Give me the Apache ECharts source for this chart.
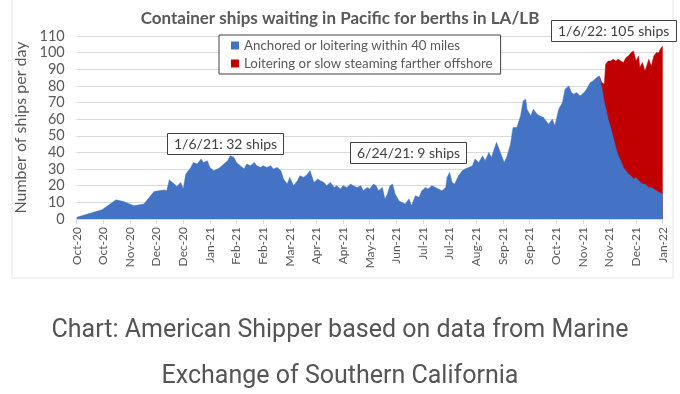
<!DOCTYPE html>
<html>
<head>
<meta charset="utf-8">
<script src="https://cdn.jsdelivr.net/npm/echarts@6/dist/echarts.min.js"></script>
<style>html,body{margin:0;padding:0;background:#fff;}#c{width:680px;height:394px;}</style>
</head>
<body>
<div id="c"></div>
<script>
// x tick labels (every 21 days starting Oct 1, 2020)
const tickLabels = ['Oct-20','Oct-20','Nov-20','Dec-20','Dec-20','Jan-21','Feb-21','Feb-21','Mar-21','Apr-21','Apr-21','May-21','Jun-21','Jul-21','Jul-21','Aug-21','Sep-21','Sep-21','Oct-21','Nov-21','Nov-21','Dec-21','Jan-22'];
const yTicks = [0,10,20,30,40,50,60,70,80,90,100,110];

// days since Oct 1, 2020
const days = [0,20,31,37,45,53,61,69,71,73,
77,79,82,84,86,88,90,92,95,98,
100,103,105,108,111,113,116,119,121,124,
126,129,132,134,137,140,142,145,147,150,
153,155,158,161,163,166,168,171,174,176,
179,182,184,187,190,192,195,197,200,203,
205,208,210,213,216,218,221,224,226,229,
231,234,236,238,241,243,245,247,249,251,
254,256,259,262,264,267,270,272,275,277,
280,283,285,288,291,292,294,296,298,301,
304,306,309,312,314,317,320,322,325,327,
330,331,334,337,339,342,344,347,350,352,
354,355,358,360,363,365,368,369,372,375,
377,380,383,385,388,390,392,394,397,400,
402,405,407,410,412,414,416,417,419,421,
423,425,427,429,431,433,435,437,438,439,
441,443,444,446,448,449,451,453,455,457,
459,460,462];

// Anchored or loitering within 40 miles
const anchored = [1,5.5,11.5,10.5,8,9,16.5,17.5,17,23.5,
21,19.5,22,18,27,29,31,34,33,36,
34,35,31,29,30,31,33,35,38,37,
34,32,30,33,32,34,32,31,32,31,
32,30,31,29,24,21,25,20,23,26,
25,27,29,22,24,23,22,20,22,19,
20,18,20,19,21,20,19,20,17,19,
18,21,20,17,19,12,15,20,21,15,
11,10,9,12,8,14,13,17,19,18,
20,19,18,17,19,25,28,22,21,26,
29,30,31,32,36,34,38,35,40,37,
44,46,40,34,37,45,55,55,62,71,
72,66,62,66,63,62,61,62,57,60,
56,66,70,78,80,76,75,76,74,76,
78,82,83,85,86,79,70,67,60,55,
49,43,38,35,31,29,27,26,25,24,
25,23,22,21,21,20,19,19,18,17,
16,15,15];

// Loitering or slow steaming farther offshore (starts mid-Nov 2021)
const offshoreDays = [412,414,416,417,419,421,423,425,427,429,431,433,435,437,438,439,441,443,444,446,448,449,451,453,455,457,459,460,462];
const offshore = [0,3,11,26,35,40,47,52,58,60,63,68,71,74,76,77,70,75,69,73,68,71,77,73,80,83,84,87,89];

// Red drawn as the stacked top (anchored + offshore) behind the blue area
const blueData = days.map((d,i)=>[d, anchored[i]]);
const redData = offshoreDays.map((d,i)=>[d, anchored[days.indexOf(d)] + offshore[i]]);

const chart = echarts.init(document.getElementById('c'), null, {renderer:'canvas'});
const gray = '#595959';
const annoStyle = {fontFamily:'Lato', fontSize:14, color:'#404040', fontWeight:'normal'};
const capStyle = {fontFamily:'Roboto', fontSize:25, fontWeight:'normal', color:'#555'};
chart.setOption({
  animation:false,
  backgroundColor:'#fff',
  title:[
    {text:'Container ships waiting in Pacific for berths in LA/LB', left:'center', top:5,
     textStyle:{fontFamily:'Lato', fontSize:17, fontWeight:'bold', color:gray}},
    {text:'1/6/21: 32 ships', left:167, top:133, padding:[4,7,4,7], borderWidth:1, borderColor:'#404040', backgroundColor:'#fff', textStyle:annoStyle},
    {text:'6/24/21: 9 ships', left:350, top:142, padding:[4,7,4,7], borderWidth:1, borderColor:'#404040', backgroundColor:'#fff', textStyle:annoStyle},
    {text:'1/6/22: 105 ships', left:551, top:20, padding:[4,7,4,7], borderWidth:1, borderColor:'#404040', backgroundColor:'#fff', textStyle:annoStyle},
    {text:'Chart: American Shipper based on data from Marine', left:'center', top:313, textStyle:capStyle},
    {text:'Exchange of Southern California', left:'center', top:359, textStyle:capStyle}
  ],
  legend:{
    orient:'vertical', left:219, top:35, padding:[4,8,4,12], itemGap:5,
    borderWidth:1, borderColor:'#404040', backgroundColor:'#fff',
    itemWidth:8, itemHeight:8, icon:'rect',
    textStyle:{fontFamily:'Lato', fontSize:13.3, color:gray},
    data:['Anchored or loitering within 40 miles','Loitering or slow steaming farther offshore']
  },
  grid:{left:76.7, right:17.3, top:36, bottom:175},
  xAxis:{
    type:'value', min:0, max:462, interval:21,
    axisLine:{show:true, lineStyle:{color:'#d9d9d9'}},
    axisTick:{show:true, length:5, lineStyle:{color:'#d9d9d9'}},
    splitLine:{show:false},
    axisLabel:{rotate:90, margin:8, fontFamily:'Lato', fontSize:12, color:gray,
      formatter:(v)=>tickLabels[Math.round(v/21)]}
  },
  yAxis:{
    type:'value', min:yTicks[0], max:yTicks[yTicks.length-1], interval:10,
    name:'Number of ships per day', nameLocation:'middle', nameGap:46,
    nameTextStyle:{fontFamily:'Lato', fontSize:16, color:gray},
    axisLine:{show:false}, axisTick:{show:false},
    splitLine:{lineStyle:{color:'#d9d9d9'}},
    axisLabel:{fontFamily:'Lato', fontSize:14.5, color:gray, margin:12}
  },
  series:[
    {name:'Anchored or loitering within 40 miles', type:'line', data:blueData, z:3,
     showSymbol:false, lineStyle:{width:0.5, color:'#4472C4'}, itemStyle:{color:'#4472C4'},
     areaStyle:{color:'#4472C4', opacity:1}},
    {name:'Loitering or slow steaming farther offshore', type:'line', data:redData, z:2,
     showSymbol:false, lineStyle:{width:0.5, color:'#C00000'}, itemStyle:{color:'#C00000'},
     areaStyle:{color:'#C00000', opacity:1}}
  ],
  graphic:[
    {type:'rect', shape:{x:12, y:-5, width:661, height:283}, style:{fill:null, stroke:'#e6e6e6', lineWidth:1}, z:-1}
  ]
});
</script>
</body>
</html>
